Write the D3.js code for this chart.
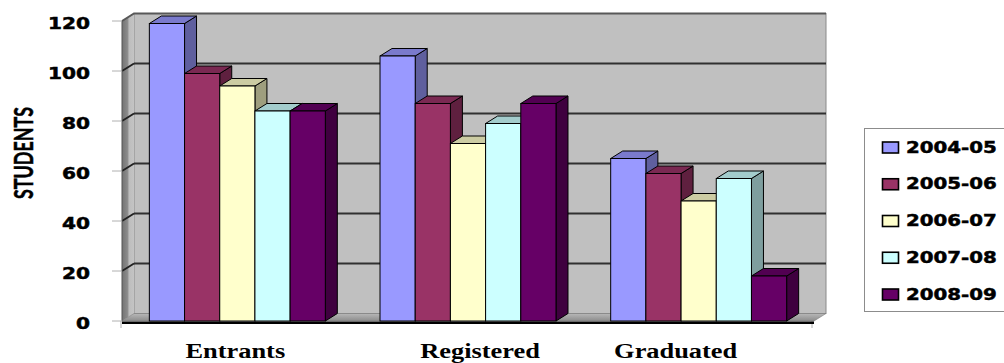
<!DOCTYPE html>
<html>
<head>
<meta charset="utf-8">
<script src="https://cdn.jsdelivr.net/npm/d3@7"></script>
<style>
  html, body { margin: 0; padding: 0; background: #ffffff; }
  svg { display: block; }
</style>
</head>
<body>
<svg id="chart" width="1004" height="363"></svg>
<script>
// Student numbers per stage, one array per academic year
const categories = ["Entrants", "Registered", "Graduated"];
const seriesNames = ["2004-05", "2005-06", "2006-07", "2007-08", "2008-09"];
const y2004_05 = [119, 106, 65];
const y2005_06 = [99, 87, 59];
const y2006_07 = [94, 71, 48];
const y2007_08 = [84, 79, 57];
const y2008_09 = [84, 87, 18];
const yTicks = [0, 20, 40, 60, 80, 100, 120];
const axisTitle = "STUDENTS";

const seriesValues = [y2004_05, y2005_06, y2006_07, y2007_08, y2008_09];
const seriesColors = ["#9999ff", "#993366", "#ffffcc", "#ccffff", "#660066"];

// layout
const plotLeft = 122, plotRight = 814;
const baseY = 321, topY = 21;
const depthX = 12, depthY = -7.5;
const labelNudge = [-2, 12, -23];

const svg = d3.select("#chart");
const defs = svg.append("defs");

const x0 = d3.scaleBand().domain(categories).range([plotLeft, plotRight]).paddingInner(0).paddingOuter(0);
const x1 = d3.scaleBand().domain(seriesNames).range([0, x0.bandwidth()]).paddingInner(0).paddingOuter(0.777);
const y = d3.scaleLinear().domain([0, 120]).range([baseY, topY]);

// side wall shading
const grad = defs.append("linearGradient").attr("id", "sideWall").attr("x1", "0").attr("x2", "1").attr("y1", "0").attr("y2", "0");
grad.append("stop").attr("offset", "0").attr("stop-color", "#747474");
grad.append("stop").attr("offset", "0.45").attr("stop-color", "#8a8a8a");
grad.append("stop").attr("offset", "0.6").attr("stop-color", "#bdbdbd");
grad.append("stop").attr("offset", "1").attr("stop-color", "#c4c4c4");

const floorGrad = defs.append("linearGradient").attr("id", "floorFill").attr("x1", "0").attr("x2", "0").attr("y1", "0").attr("y2", "1");
floorGrad.append("stop").attr("offset", "0").attr("stop-color", "#b8b8b8");
floorGrad.append("stop").attr("offset", "1").attr("stop-color", "#8c8c8c");

const ymax = d3.max(yTicks);
const backTop = y(ymax) + depthY;
const backBottom = y(0) + depthY;

// back wall
svg.append("rect")
  .attr("x", plotLeft + depthX).attr("y", backTop)
  .attr("width", plotRight - plotLeft).attr("height", backBottom - backTop)
  .attr("fill", "#c0c0c0").attr("stroke", "#8a8a8a").attr("stroke-width", 1);

// side wall
svg.append("polygon")
  .attr("points", [[plotLeft, y(ymax)], [plotLeft + depthX, backTop], [plotLeft + depthX, backBottom], [plotLeft, y(0)]].map(p => p.join(",")).join(" "))
  .attr("fill", "url(#sideWall)");

// floor
svg.append("polygon")
  .attr("points", [[plotLeft, y(0)], [plotRight, y(0)], [plotRight + depthX, backBottom], [plotLeft + depthX, backBottom]].map(p => p.join(",")).join(" "))
  .attr("fill", "url(#floorFill)").attr("stroke", "#7a7a7a").attr("stroke-width", 0.6);

// gridlines on back and side walls
const gridVals = yTicks.filter(v => v > 0 && v < ymax);
svg.append("g").selectAll("line").data(gridVals).join("line")
  .attr("x1", plotLeft + depthX).attr("x2", plotRight + depthX)
  .attr("y1", d => y(d) + depthY).attr("y2", d => y(d) + depthY)
  .attr("stroke", "#303030").attr("stroke-width", 1.8);
svg.append("g").selectAll("line").data(gridVals).join("line")
  .attr("x1", plotLeft).attr("x2", plotLeft + depthX)
  .attr("y1", d => y(d)).attr("y2", d => y(d) + depthY)
  .attr("stroke", "#202020").attr("stroke-width", 1.8);

// top edges of the walls
svg.append("polyline")
  .attr("points", [[plotLeft, y(ymax)], [plotLeft + depthX, backTop], [plotRight + depthX, backTop]].map(p => p.join(",")).join(" "))
  .attr("fill", "none").attr("stroke", "#585858").attr("stroke-width", 2);
svg.append("line")
  .attr("x1", plotLeft).attr("x2", plotLeft).attr("y1", y(ymax)).attr("y2", y(0))
  .attr("stroke", "#555").attr("stroke-width", 1);

// value axis ticks
svg.append("g").selectAll("line").data(yTicks).join("line")
  .attr("x1", plotLeft - 10).attr("x2", plotLeft)
  .attr("y1", d => y(d)).attr("y2", d => y(d))
  .attr("stroke", "#b0b0b0").attr("stroke-width", 1);
svg.append("g").selectAll("line").data([plotLeft - 1, plotRight - 2]).join("line")
  .attr("x1", d => d).attr("x2", d => d)
  .attr("y1", y(0)).attr("y2", y(0) + 7)
  .attr("stroke", "#b0b0b0").attr("stroke-width", 1);

// value axis labels
svg.append("g").selectAll("text").data(yTicks).join("text")
  .attr("transform", d => `translate(90,${y(d) + 7.8}) scale(1.22,1)`)
  .attr("text-anchor", "end")
  .attr("font-family", "DejaVu Sans")
  .attr("font-weight", "bold")
  .attr("font-size", 16.5)
  .attr("fill", "#000")
  .attr("stroke", "#000").attr("stroke-width", 0.5)
  .text(d => d);

// bars: front, top and right faces
function shade(c, k) {
  const col = d3.color(c);
  return d3.rgb(col.r * k, col.g * k, col.b * k).formatHex();
}
const barData = [];
categories.forEach((cat, ci) => {
  seriesNames.forEach((s, si) => {
    barData.push({ cat, series: s, value: seriesValues[si][ci], color: seriesColors[si] });
  });
});
const bw = x1.bandwidth();
const bars = svg.append("g").selectAll("g").data(barData).join("g");
bars.append("polygon") // right face
  .attr("points", d => {
    const xl = x0(d.cat) + x1(d.series), xr = xl + bw, yt = y(d.value), yb = y(0);
    return [[xr, yt], [xr + depthX, yt + depthY], [xr + depthX, yb + depthY], [xr, yb]].map(p => p.join(",")).join(" ");
  })
  .attr("fill", d => shade(d.color, 0.62)).attr("stroke", "#000").attr("stroke-width", 1).attr("stroke-linejoin", "round");
bars.append("polygon") // top face
  .attr("points", d => {
    const xl = x0(d.cat) + x1(d.series), xr = xl + bw, yt = y(d.value);
    return [[xl, yt], [xl + depthX, yt + depthY], [xr + depthX, yt + depthY], [xr, yt]].map(p => p.join(",")).join(" ");
  })
  .attr("fill", d => shade(d.color, 0.8)).attr("stroke", "#000").attr("stroke-width", 1).attr("stroke-linejoin", "round");
bars.append("rect") // front face
  .attr("x", d => x0(d.cat) + x1(d.series))
  .attr("y", d => y(d.value))
  .attr("width", bw)
  .attr("height", d => y(0) - y(d.value))
  .attr("fill", d => d.color).attr("stroke", "#000").attr("stroke-width", 1);

// category axis line
svg.append("line")
  .attr("x1", plotLeft).attr("x2", plotRight)
  .attr("y1", y(0) + 1.7).attr("y2", y(0) + 1.7)
  .attr("stroke", "#000").attr("stroke-width", 2.6);

// category labels
svg.append("g").selectAll("text").data(categories).join("text")
  .attr("transform", (d, i) => `translate(${x0(d) + x0.bandwidth() / 2 + labelNudge[i]},358) scale(1.2,1)`)
  .attr("text-anchor", "middle")
  .attr("font-family", "Liberation Serif")
  .attr("font-weight", "bold")
  .attr("font-size", 22)
  .attr("fill", "#000")
  .text(d => d);

// axis title
svg.append("text")
  .attr("transform", "translate(22.5,153) scale(1.3,1) rotate(-90)")
  .attr("text-anchor", "middle")
  .attr("dominant-baseline", "central")
  .attr("font-family", "Lato")
  .attr("font-weight", "bold")
  .attr("font-size", 21)
  .attr("textLength", 92)
  .attr("lengthAdjust", "spacingAndGlyphs")
  .attr("fill", "#000")
  .attr("stroke", "#000").attr("stroke-width", 0.4)
  .text(axisTitle);

// legend
const legendY = d3.scalePoint().domain(seriesNames).range([147, 294]);
svg.append("rect")
  .attr("x", 864.5).attr("y", 128.5).attr("width", 150).attr("height", 183)
  .attr("fill", "#fff").attr("stroke", "#8c8c8c").attr("stroke-width", 1);
const items = svg.append("g").selectAll("g").data(seriesNames).join("g");
items.append("rect")
  .attr("x", 882.5).attr("y", d => legendY(d) - 5)
  .attr("width", 16).attr("height", 11)
  .attr("fill", (d, i) => seriesColors[i])
  .attr("stroke", "#000").attr("stroke-width", 1.6);
items.append("text")
  .attr("transform", d => `translate(906,${legendY(d) + 5.5}) scale(1.2,1)`)
  .attr("font-family", "DejaVu Sans")
  .attr("font-weight", "bold")
  .attr("font-size", 16.5)
  .attr("fill", "#000")
  .attr("stroke", "#000").attr("stroke-width", 0.5)
  .text(d => d);
</script>
</body>
</html>
